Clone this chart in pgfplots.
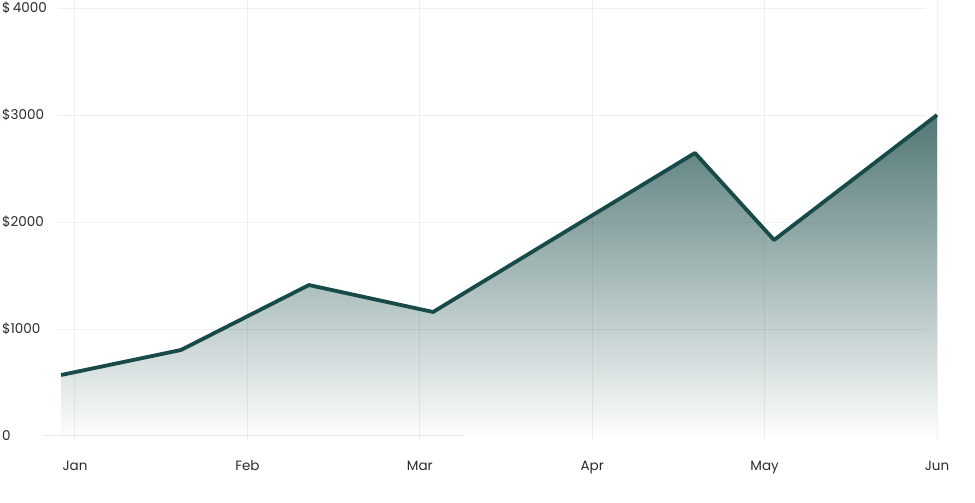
\documentclass[border=0pt]{standalone}
\usepackage{pgfplots}
\pgfplotsset{compat=1.18}
\usepackage{fontspec}
\setmainfont{Poppins}
\definecolor{teal1}{HTML}{174A48}
\definecolor{gridc}{HTML}{000000}
\definecolor{txt}{HTML}{2A2A2A}
\begin{document}
\begin{tikzpicture}
\begin{axis}[
  at={(43pt,63pt)}, anchor=south west,
  scale only axis, width=894pt, height=440pt,
  xmin=-0.1856, xmax=5, ymin=-37.4, ymax=4075,
  axis line style={draw=none},
  tick style={draw=none},
  xtick={0,1,2,3,4,5},
  xticklabels={Jan,Feb,Mar,Apr,May,Jun},
  ytick={0,1000,2000,3000,4000},
  yticklabels={0,\$1000,\$2000,\$3000,\$\,4000},
  ticklabel style={font=\fontsize{13.5}{15}\selectfont, text=txt},
  yticklabel style={anchor=west, xshift=-41pt, inner sep=0pt},
  xticklabel style={anchor=base, yshift=-30.5pt, inner sep=0pt},
  /pgf/number format/assume math mode=true,
  clip=false,
]
\addplot[draw=none, top color=teal1!75!white, bottom color=white] coordinates {
  (-0.081,-37.4) (-0.081,570) (0.615,804) (1.357,1411) (2.077,1159)
  (3.596,2645) (4.055,1832) (5,3000) (5,-37.4)
} -- cycle;
% grid lines
\foreach \m in {0,1,2,3,4,5} {
  \edef\temp{\noexpand\draw[gridc, opacity=0.055, line width=1pt] (axis cs:\m,-37.4) -- (axis cs:\m,4075);}
  \temp
}
\foreach \v in {1000,2000,3000,4000} {
  \edef\temp{\noexpand\draw[gridc, opacity=0.055, line width=1pt] (axis cs:-0.0986,\v) -- (axis cs:4.936,\v);}
  \temp
}
\draw[gridc, opacity=0.08, line width=1pt] (axis cs:-0.1856,0) -- (axis cs:2.2506,0);
\addplot[teal1, line width=3.8pt, line join=round] coordinates {
  (-0.081,570) (0.615,804) (1.357,1411) (2.077,1159)
  (3.596,2645) (4.055,1832) (5,3000)
};
\end{axis}
\pgfresetboundingbox
\path (0,0) rectangle (975pt,503pt);
\end{tikzpicture}
\end{document}
